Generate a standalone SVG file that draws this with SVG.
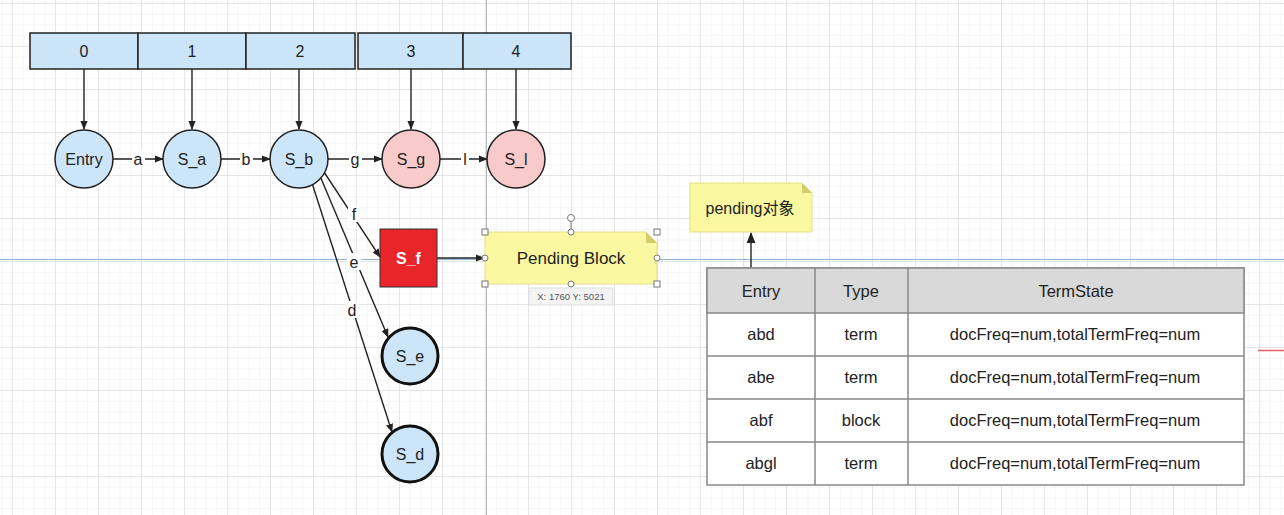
<svg xmlns="http://www.w3.org/2000/svg" width="1284" height="515" viewBox="0 0 1284 515">
<defs>
<pattern id="minor" x="12" y="3" width="10.75" height="10.75" patternUnits="userSpaceOnUse">
<path d="M0 0H10.75M0 0V10.75" fill="none" stroke="#ececec" stroke-width="1"/>
</pattern>
<pattern id="major" x="12" y="3" width="43" height="43" patternUnits="userSpaceOnUse">
<path d="M0 0H43M0 0V43" fill="none" stroke="#d6d6d6" stroke-width="1"/>
</pattern>
<marker id="arr" viewBox="0 0 10 10" refX="9" refY="5" markerWidth="9" markerHeight="9" markerUnits="userSpaceOnUse" orient="auto">
<path d="M0 1L10 5L0 9Z" fill="#222"/>
</marker>
<marker id="arr2" viewBox="0 0 10 10" refX="9" refY="5" markerWidth="11" markerHeight="11" markerUnits="userSpaceOnUse" orient="auto">
<path d="M0 1L10 5L0 9Z" fill="#222"/>
</marker>
</defs>
<style>
text{font-family:"Liberation Sans",Arial,sans-serif;fill:#222;text-anchor:middle;dominant-baseline:central}
.cell{fill:#cce4f8;stroke:#222;stroke-width:1.5}
.blue{fill:#cde5f9;stroke:#222;stroke-width:1.5}
.pink{fill:#f8caca;stroke:#222;stroke-width:1.5}
.bold{fill:#cde5f9;stroke:#111;stroke-width:3}
.edge{fill:none;stroke:#222;stroke-width:1.4}
.lbl{font-size:16px}
.note{fill:#fbf8a2;stroke:#e6e08a;stroke-width:1}
.fold{fill:#d4cd6e}
.tbl{fill:#fff;stroke:#888;stroke-width:1.5}
.th{fill:#d9d9d9;stroke:#888;stroke-width:1.5}
.td{font-size:16.5px}
.h{fill:#fff;stroke:#777;stroke-width:1}
</style>
<rect width="1284" height="515" fill="#fff"/>
<rect width="1284" height="515" fill="url(#minor)"/>
<rect width="1284" height="515" fill="url(#major)"/>
<line x1="486.5" y1="0" x2="486.5" y2="515" stroke="#bbb" stroke-width="1"/>
<line x1="0" y1="259.5" x2="1284" y2="259.5" stroke="#8fb4d8" stroke-width="1"/>
<line x1="1258" y1="350.5" x2="1284" y2="350.5" stroke="#e06060" stroke-width="1.5"/>

<g id="array">
<rect class="cell" x="30" y="33" width="108" height="36"/>
<rect class="cell" x="138" y="33" width="108" height="36"/>
<rect class="cell" x="246" y="33" width="109" height="36"/>
<rect class="cell" x="358" y="33" width="105" height="36"/>
<rect class="cell" x="463" y="33" width="108" height="36"/>
<text class="lbl" x="84" y="51">0</text>
<text class="lbl" x="192" y="51">1</text>
<text class="lbl" x="300" y="51">2</text>
<text class="lbl" x="411" y="51">3</text>
<text class="lbl" x="516" y="51">4</text>
</g>

<g id="connectors">
<line class="edge" x1="84" y1="69" x2="84" y2="129" marker-end="url(#arr)"/>
<line class="edge" x1="192" y1="69" x2="192" y2="129" marker-end="url(#arr)"/>
<line class="edge" x1="299" y1="69" x2="299" y2="129" marker-end="url(#arr)"/>
<line class="edge" x1="411" y1="69" x2="411" y2="129" marker-end="url(#arr)"/>
<line class="edge" x1="516" y1="69" x2="516" y2="129" marker-end="url(#arr)"/>
<line class="edge" x1="113" y1="159" x2="163" y2="159" marker-end="url(#arr)"/>
<line class="edge" x1="221" y1="159" x2="270" y2="159" marker-end="url(#arr)"/>
<line class="edge" x1="328" y1="159" x2="382" y2="159" marker-end="url(#arr)"/>
<line class="edge" x1="440" y1="159" x2="487" y2="159" marker-end="url(#arr)"/>
<line class="edge" x1="324" y1="172" x2="380" y2="257" marker-end="url(#arr)"/>
<line class="edge" x1="320" y1="176" x2="388" y2="337" marker-end="url(#arr)"/>
<line class="edge" x1="312" y1="183" x2="392" y2="432" marker-end="url(#arr)"/>
<line class="edge" x1="437" y1="258" x2="484" y2="258" marker-end="url(#arr)"/>
<line class="edge" x1="751" y1="268" x2="751" y2="233" marker-end="url(#arr2)"/>
<rect x="132" y="150" width="13" height="17" fill="#fff"/>
<text class="lbl" x="138" y="159">a</text>
<rect x="240" y="150" width="13" height="17" fill="#fff"/>
<text class="lbl" x="246" y="159">b</text>
<rect x="349" y="150" width="13" height="17" fill="#fff"/>
<text class="lbl" x="355" y="159">g</text>
<rect x="461" y="150" width="8" height="17" fill="#fff"/>
<text class="lbl" x="465" y="159">l</text>
<rect x="348" y="205" width="12" height="17" fill="#fff"/>
<text class="lbl" x="354" y="214">f</text>
<rect x="347" y="253" width="14" height="17" fill="#fff"/>
<text class="lbl" x="354" y="262">e</text>
<rect x="345" y="301" width="14" height="17" fill="#fff"/>
<text class="lbl" x="352" y="310">d</text>
</g>

<g id="Entry"><ellipse class="blue" cx="84" cy="159" rx="29" ry="29"/><text class="lbl" x="84" y="159">Entry</text></g>
<g id="S_a"><ellipse class="blue" cx="192" cy="159" rx="29" ry="29"/><text class="lbl" x="192" y="159">S_a</text></g>
<g id="S_b"><ellipse class="blue" cx="299" cy="159" rx="29" ry="29"/><text class="lbl" x="299" y="159">S_b</text></g>
<g id="S_g"><ellipse class="pink" cx="411" cy="159" rx="29" ry="29"/><text class="lbl" x="411" y="159">S_g</text></g>
<g id="S_l"><ellipse class="pink" cx="516" cy="159" rx="29" ry="29"/><text class="lbl" x="516" y="159">S_l</text></g>
<g id="S_f"><rect x="380" y="229" width="57" height="58" fill="#e8262a" stroke="#333" stroke-width="1"/><text x="408.5" y="258" style="font-size:16px;font-weight:bold;fill:#fff">S_f</text></g>
<g id="S_e"><circle class="bold" cx="410" cy="356" r="28"/><text class="lbl" x="410" y="356">S_e</text></g>
<g id="S_d"><circle class="bold" cx="410" cy="454" r="28"/><text class="lbl" x="410" y="454">S_d</text></g>

<g id="pending_block">
<path class="note" d="M485 232H646L657 243V284H485Z"/>
<path class="fold" d="M646 232L657 243H646Z"/>
<text x="571" y="258" style="font-size:17px">Pending Block</text>
<line x1="571" y1="218" x2="571" y2="232" stroke="#777" stroke-width="1"/>
<circle class="h" cx="571" cy="218" r="3.5"/>
<rect class="h" x="482" y="229" width="6" height="6"/>
<rect class="h" x="654" y="229" width="6" height="6"/>
<rect class="h" x="482" y="281" width="6" height="6"/>
<rect class="h" x="654" y="281" width="6" height="6"/>
<circle class="h" cx="571" cy="232" r="3"/>
<circle class="h" cx="571" cy="284" r="3"/>
<circle class="h" cx="485" cy="258" r="3"/>
<circle class="h" cx="657" cy="258" r="3"/>
<rect x="529" y="288" width="84" height="17" fill="#f4f4f4" stroke="#ddd" stroke-width="1"/>
<text x="571" y="296.5" style="font-size:9.5px;fill:#555">X: 1760  Y: 5021</text>
</g>

<g id="pending_obj">
<path class="note" d="M690 183H802L812 193V232H690Z"/>
<path class="fold" d="M802 183L812 193H802Z"/>
<text x="750" y="208" style="font-size:16px;font-family:'Liberation Sans','Noto Sans CJK SC',sans-serif">pending对象</text>
</g>

<g id="table">
<rect class="tbl" x="707" y="268" width="537" height="217"/>
<rect class="th" x="707" y="268" width="537" height="45"/>
<line x1="707" y1="356" x2="1244" y2="356" stroke="#888" stroke-width="1.5"/>
<line x1="707" y1="399" x2="1244" y2="399" stroke="#888" stroke-width="1.5"/>
<line x1="707" y1="442" x2="1244" y2="442" stroke="#888" stroke-width="1.5"/>
<line x1="815" y1="268" x2="815" y2="485" stroke="#888" stroke-width="1.5"/>
<line x1="908" y1="268" x2="908" y2="485" stroke="#888" stroke-width="1.5"/>
<text class="td" x="761" y="291">Entry</text>
<text class="td" x="861" y="291">Type</text>
<text class="td" x="1076" y="291">TermState</text>
<text class="td" x="761" y="334">abd</text>
<text class="td" x="861" y="334">term</text>
<text class="td" x="1075" y="334">docFreq=num,totalTermFreq=num</text>
<text class="td" x="761" y="377">abe</text>
<text class="td" x="861" y="377">term</text>
<text class="td" x="1075" y="377">docFreq=num,totalTermFreq=num</text>
<text class="td" x="761" y="420">abf</text>
<text class="td" x="861" y="420">block</text>
<text class="td" x="1075" y="420">docFreq=num,totalTermFreq=num</text>
<text class="td" x="761" y="463">abgl</text>
<text class="td" x="861" y="463">term</text>
<text class="td" x="1075" y="463">docFreq=num,totalTermFreq=num</text>
</g>
</svg>
